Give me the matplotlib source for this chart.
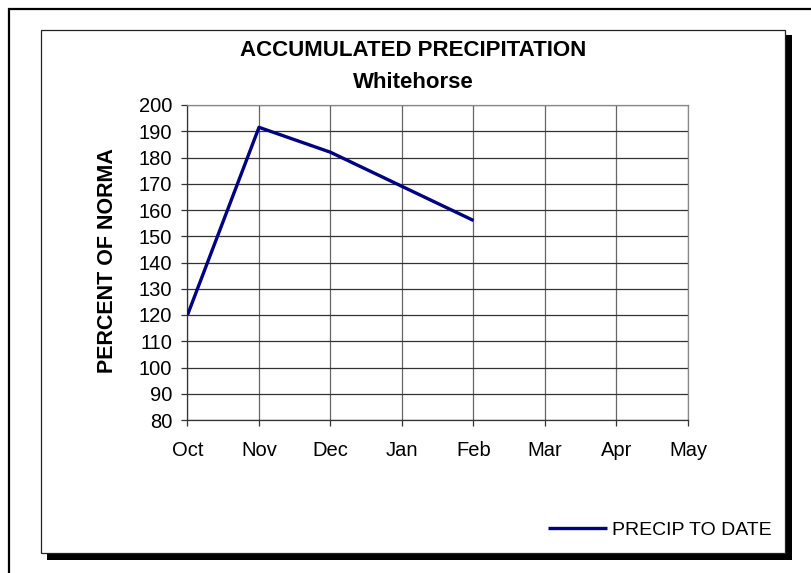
import matplotlib
matplotlib.use("Agg")
import matplotlib.pyplot as plt
from matplotlib.patches import Rectangle

months = ["Oct", "Nov", "Dec", "Jan", "Feb", "Mar", "Apr", "May"]
precip_months = ["Oct", "Nov", "Dec", "Jan", "Feb"]
precip_to_date = [120, 191.5, 182, 169, 156]
y_ticks = list(range(80, 201, 10))

plt.rcParams['font.family'] = ['Liberation Sans', 'DejaVu Sans']

W, H = 812, 573
fig = plt.figure(figsize=(W / 100, H / 100), dpi=100)

def fx(px):
    return px / W

def fy(py):
    return 1 - py / H

# outer border (top & left visible)
fig.patches.append(Rectangle((fx(9), fy(600)), fx(900) - fx(9), fy(9) - fy(600),
                             transform=fig.transFigure, fill=False, edgecolor='black',
                             linewidth=1.6, zorder=-3))
# shadow
fig.patches.append(Rectangle((fx(47), fy(560)), fx(792) - fx(47), fy(35) - fy(560),
                             transform=fig.transFigure, facecolor='black', edgecolor='none',
                             zorder=-2))
# inner frame
fig.patches.append(Rectangle((fx(41.5), fy(553)), fx(785) - fx(41.5), fy(29.5) - fy(553),
                             transform=fig.transFigure, facecolor='white', edgecolor='#222222',
                             linewidth=0.9, zorder=-1))

ax = fig.add_axes([fx(187.5), fy(420), fx(688) - fx(187.5), fy(105) - fy(420)])
ax.set_zorder(1)

xpos = [months.index(m) for m in precip_months]
ax.plot(xpos, precip_to_date, color='#000080', linewidth=2.4, label='PRECIP TO DATE',
        solid_capstyle='butt', zorder=3)

ax.set_xlim(0, len(months) - 1)
ax.set_ylim(80, 200)
ax.set_xticks(range(len(months)))
ax.set_xticklabels(months)
ax.set_yticks(y_ticks)
ax.tick_params(axis='both', labelsize=14.5, length=4, width=0.9, color='#333333',
               direction='out')
ax.tick_params(axis='y', pad=7)
ax.tick_params(axis='x', pad=11)

ax.yaxis.grid(True, color='#333333', linewidth=0.9)
ax.xaxis.grid(True, color='#666666', linewidth=0.9)
ax.set_axisbelow(True)
for s in ['left', 'bottom']:
    ax.spines[s].set_color('#333333')
    ax.spines[s].set_linewidth(0.9)
for s in ['top', 'right']:
    ax.spines[s].set_color('#888888')
    ax.spines[s].set_linewidth(0.9)

fig.text(fx(413), fy(50), "ACCUMULATED PRECIPITATION", ha='center', va='center',
         fontsize=16, fontweight='bold')
fig.text(fx(413), fy(82), "Whitehorse", ha='center', va='center',
         fontsize=16, fontweight='bold')
fig.text(fx(108), fy(261), "PERCENT OF NORMA", ha='center', va='center',
         rotation=90, fontsize=15.5, fontweight='bold')

fig.legend(loc='center right', bbox_to_anchor=(fx(772), fy(530)), frameon=False,
           fontsize=14, handlelength=3.0, handletextpad=0.3, borderpad=0,
           borderaxespad=0)

fig.savefig("out.png", dpi=100)
